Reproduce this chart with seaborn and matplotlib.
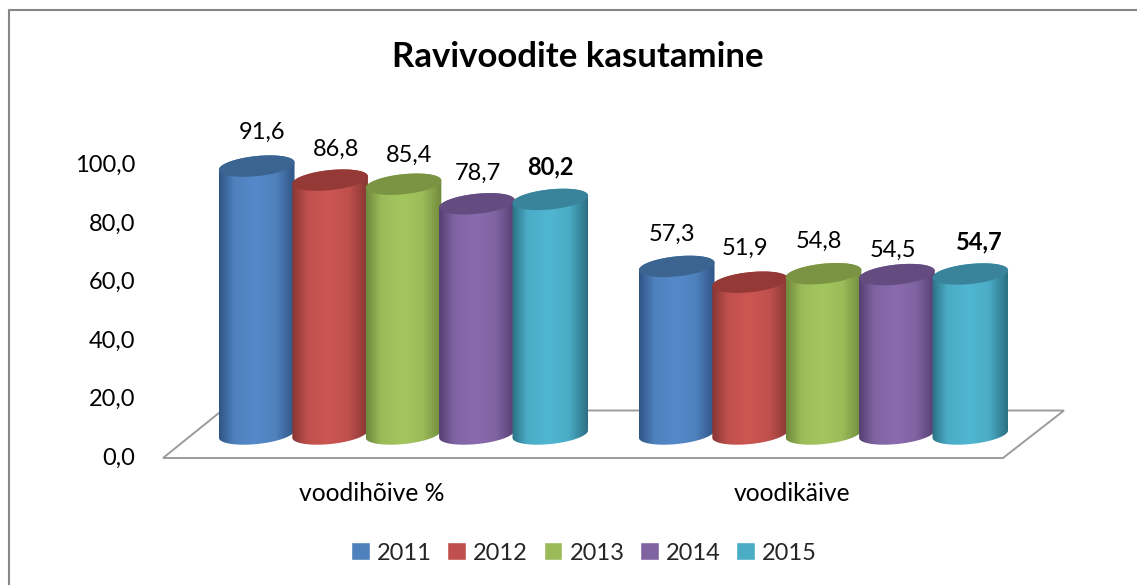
import numpy as np
import pandas as pd
import matplotlib
matplotlib.use("Agg")
import matplotlib.pyplot as plt
from matplotlib.colors import LinearSegmentedColormap
from matplotlib.lines import Line2D
from matplotlib.patches import PathPatch, Polygon
from matplotlib.path import Path
import seaborn as sns

categories = ["voodihõive %", "voodikäive"]
years = ["2011", "2012", "2013", "2014", "2015"]
values_2011 = [91.6, 57.3]
values_2012 = [86.8, 51.9]
values_2013 = [85.4, 54.8]
values_2014 = [78.7, 54.5]
values_2015 = [80.2, 54.7]
y_ticks = [0, 20, 40, 60, 80, 100]

colors = ["#4F81BD", "#C0504D", "#9BBB59", "#8064A2", "#4BACC6"]
lights = ["#5589CA", "#CC5652", "#A4C65E", "#8A6BAE", "#50B6D2"]
darks = ["#2F5586", "#863634", "#6F8A3C", "#563F72", "#2C7084"]
caps = ["#3B6491", "#953937", "#7A9443", "#644C80", "#39849A"]

W, H = 1137, 585
sns.set_theme(style="white")
plt.rcParams["font.family"] = ["Lato", "DejaVu Sans"]

df = pd.DataFrame({
    "category": categories * 5,
    "year": np.repeat(years, 2),
    "value": values_2011 + values_2012 + values_2013 + values_2014 + values_2015,
})


def px_box(left, right, top, bottom):
    return [left / W, 1 - bottom / H, (right - left) / W, (bottom - top) / H]


fig = plt.figure(figsize=(W / 100, H / 100), dpi=100, facecolor="white")

# axis labels sit on the front of the floor, bars are shifted back from it
px_per_unit = 2.925
px_per_cat = 420
ax_back = fig.add_axes(px_box(163, 1003, 456 - 100 * px_per_unit, 456))
ax_back.set_xlim((163 - 372) / px_per_cat, (1003 - 372) / px_per_cat)
ax_back.set_ylim(0, 100)
ax_back.set_xticks([0, 1], categories)
ax_back.set_yticks(y_ticks, [f"{t:.1f}".replace(".", ",") for t in y_ticks])
ax_back.tick_params(axis="x", length=0, pad=19, labelsize=17.7, colors="black")
ax_back.tick_params(axis="y", length=0, pad=20, labelsize=17, colors="black")
sns.despine(ax=ax_back, left=True, bottom=True)
ax_back.patch.set_visible(False)

ax = fig.add_axes(px_box(150, 1100, 434 - 105 * px_per_unit, 434 + 5 * px_per_unit))
sns.barplot(data=df, x="category", y="value", hue="year",
            palette=colors, width=367 / 420, gap=0, saturation=1, ax=ax, zorder=3)
ax.set_xlim((150 - 403.5) / px_per_cat, (1100 - 403.5) / px_per_cat)
ax.set_ylim(-5, 105)
ax.axis("off")

sns.move_legend(ax, "center", bbox_to_anchor=(584 / W, 1 - 553 / H),
                bbox_transform=fig.transFigure, ncol=5, frameon=False, title=None,
                fontsize=17, handlelength=0.8, handleheight=0.8,
                handletextpad=0.3, columnspacing=0.66)

a, b = 38, 10
theta = np.radians(6)
t0 = np.arctan2(-b * np.sin(theta), a * np.cos(theta))


def ellipse(cx, cy, t):
    # tilted ellipse, offsets worked out in pixels then put in data units
    dx = a * np.cos(t) * np.cos(theta) - b * np.sin(t) * np.sin(theta)
    dy = a * np.cos(t) * np.sin(theta) + b * np.sin(t) * np.cos(theta)
    return np.column_stack([cx + dx / px_per_cat, cy + dy / px_per_unit])


label_dx = [5, 6, 6, 1, 0, -5, -5, -5, -4, 9]
label_dy = [34, 31, 29, 30, 32, 32, 34, 32, 24, 32]

order = 3
xlim, ylim = ax.get_xlim(), ax.get_ylim()
for container, light, dark, cap, mid in zip(ax.containers, lights, darks, caps, colors):
    cmap = LinearSegmentedColormap.from_list(
        "cyl", [(0, dark), (0.2, mid), (0.48, light), (0.75, mid), (1, dark)])
    for bar in container:
        cx = bar.get_x() + bar.get_width() / 2
        top = bar.get_height()
        bar.set_visible(False)
        order += 1
        low = ellipse(cx, 0, np.linspace(t0 + np.pi, t0 + 2 * np.pi, 60))
        high = ellipse(cx, top, np.linspace(t0, t0 + np.pi, 60))
        outline = np.vstack([low, high, low[:1]])
        body = PathPatch(Path(outline), transform=ax.transData, fc="none", ec="none")
        ax.add_patch(body)
        half = a / px_per_cat
        im = ax.imshow(np.linspace(0, 1, 200)[None, :], cmap=cmap, aspect="auto",
                       extent=[cx - half, cx + half, -5, top + 5],
                       zorder=order, interpolation="bilinear")
        im.set_clip_path(body)
        order += 1
        ax.add_patch(Polygon(ellipse(cx, top, np.linspace(0, 2 * np.pi, 90)),
                             closed=True, fc=cap, ec="none", zorder=order))

# data labels, 2015 in bold
k = 0
for cat in range(2):
    for yr, container in enumerate(ax.containers):
        bar = container[cat]
        ax.annotate(f"{bar.get_height():.1f}".replace(".", ","),
                    (bar.get_x() + bar.get_width() / 2, bar.get_height()),
                    xytext=(label_dx[k] * 0.72, label_dy[k] * 0.72),
                    textcoords="offset points", ha="center", va="center",
                    fontsize=17, color="black", annotation_clip=False,
                    fontweight="bold" if yr == 4 else "normal", zorder=50)
        k += 1
ax.set_xlim(xlim)
ax.set_ylim(ylim)

# floor
floor = [(163, 458), (1003, 458), (1064, 410.5), (222, 410.5)]
fig.add_artist(Polygon([(x / W, 1 - y / H) for x, y in floor], closed=True, fc="white",
                       ec="#9C9C9C", lw=1.4, transform=fig.transFigure, zorder=-1))
# chart frame, only top and left are inside the crop
fig.add_artist(Line2D([9 / W, 9 / W, 1], [0, 1 - 10 / H, 1 - 10 / H], color="#868686",
                      lw=1.5, transform=fig.transFigure, zorder=-2))

fig.text(578 / W, 1 - 57 / H, "Ravivoodite kasutamine", ha="center", va="center",
         fontsize=25, fontweight="bold", color="black")

fig.savefig("out.png", dpi=100)
